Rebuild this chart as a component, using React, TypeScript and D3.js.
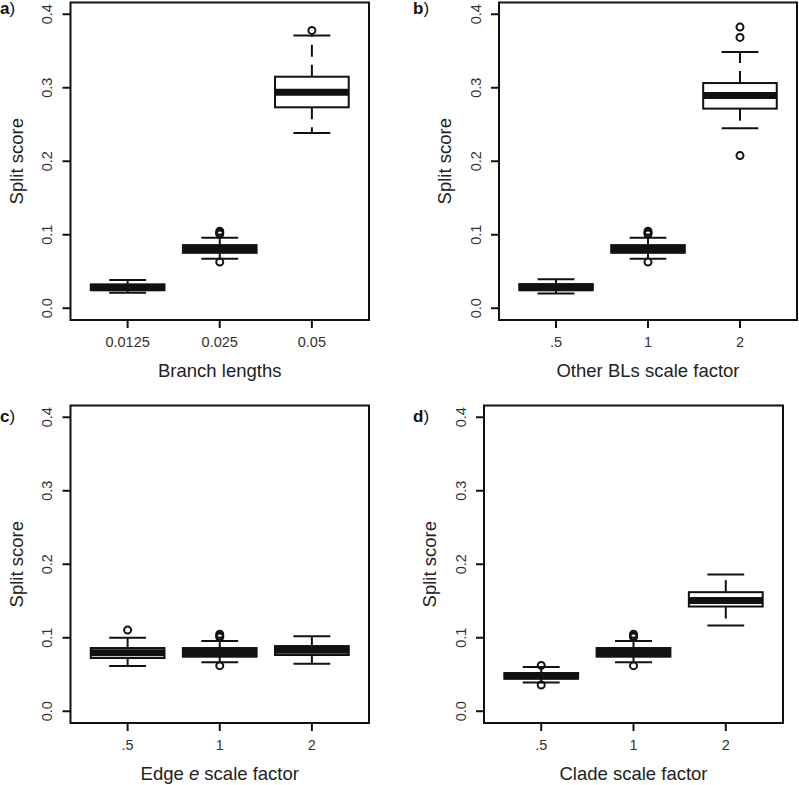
import React from "react";
import * as d3 from "d3";

// ---------- Data ----------
const catsA = ["0.0125", "0.025", "0.05"];
const lowA = [0.021, 0.0673, 0.2385];
const q1A = [0.0247, 0.0754, 0.2734];
const medA = [0.028, 0.08, 0.294];
const q3A = [0.0325, 0.0859, 0.315];
const highA = [0.0383, 0.0958, 0.3712];
const outA = [[], [0.1049, 0.1025, 0.101, 0.0628], [0.378]];

const catsB = [".5", "1", "2"];
const lowB = [0.0202, 0.0673, 0.2448];
const q1B = [0.0247, 0.0754, 0.2716];
const medB = [0.028, 0.08, 0.2893];
const q3B = [0.0329, 0.0859, 0.3064];
const highB = [0.0393, 0.0958, 0.3485];
const outB = [[], [0.1049, 0.1025, 0.101, 0.0628], [0.3825, 0.3685, 0.2077]];

const catsC = [".5", "1", "2"];
const lowC = [0.0615, 0.0665, 0.0647];
const q1C = [0.0724, 0.0742, 0.0765];
const medC = [0.0795, 0.08, 0.083];
const q3C = [0.086, 0.086, 0.0887];
const highC = [0.1, 0.0955, 0.1022];
const outC = [[0.1104], [0.1049, 0.1025, 0.101, 0.062], []];

const catsD = [".5", "1", "2"];
const lowD = [0.039, 0.0665, 0.1167];
const q1D = [0.0443, 0.0742, 0.1425];
const medD = [0.048, 0.08, 0.1507];
const q3D = [0.052, 0.086, 0.162];
const highD = [0.0602, 0.0955, 0.186];
const outD = [[0.0624, 0.0357], [0.1049, 0.1025, 0.101, 0.062], []];

const yTicks = [0, 0.1, 0.2, 0.3, 0.4];
const yTickLabels = ["0.0", "0.1", "0.2", "0.3", "0.4"];
const yTitle = "Split score";

const FONT = "'Liberation Sans', Arial, Helvetica, sans-serif";

type PanelProps = {
  letter: string;
  cats: string[];
  low: number[];
  q1: number[];
  med: number[];
  q3: number[];
  high: number[];
  out: number[][];
  xTitle: React.ReactNode;
  left: number;
  right: number;
  top: number;
  bottom: number;
  letterX: number;
  letterY: number;
};

function Panel(p: PanelProps) {
  const x = d3
    .scaleLinear()
    .domain([0.38, p.cats.length + 0.62])
    .range([p.left, p.right]);
  const y = d3.scaleLinear().domain([-0.016, 0.416]).range([p.bottom, p.top]);
  const halfBox = 0.4;
  const halfStaple = 0.2;
  const cx = (p.left + p.right) / 2;
  const cy = (p.top + p.bottom) / 2;
  return (
    <g>
      <text x={p.letterX} y={p.letterY} fontFamily={FONT} fontSize={17} fill="#111">
        <tspan fontWeight="bold">{p.letter}</tspan>)
      </text>
      {/* y axis */}
      {yTicks.map((t, i) => (
        <g key={"yt" + i}>
          <line x1={p.left - 8} x2={p.left} y1={y(t)} y2={y(t)} stroke="#111" strokeWidth={2} />
          <text
            transform={`translate(${p.left - 18.5},${y(t)}) rotate(-90)`}
            textAnchor="middle"
            fontFamily={FONT}
            fontSize={14.5}
            fill="#333"
          >
            {yTickLabels[i]}
          </text>
        </g>
      ))}
      <text
        transform={`translate(${p.left - 48},${cy}) rotate(-90)`}
        textAnchor="middle"
        fontFamily={FONT}
        fontSize={18.5}
        fill="#222"
      >
        {yTitle}
      </text>
      {/* x axis */}
      {p.cats.map((c, i) => (
        <g key={"xt" + i}>
          <line x1={x(i + 1)} x2={x(i + 1)} y1={p.bottom} y2={p.bottom + 8} stroke="#111" strokeWidth={2} />
          <text x={x(i + 1)} y={p.bottom + 27} textAnchor="middle" fontFamily={FONT} fontSize={14.5} fill="#333">
            {c}
          </text>
        </g>
      ))}
      <text x={cx} y={p.bottom + 56.5} textAnchor="middle" fontFamily={FONT} fontSize={18.5} fill="#222">
        {p.xTitle}
      </text>
      {/* boxes */}
      {p.cats.map((c, i) => {
        const xc = x(i + 1);
        const xl = x(i + 1 - halfBox);
        const xr = x(i + 1 + halfBox);
        const sl = x(i + 1 - halfStaple);
        const sr = x(i + 1 + halfStaple);
        return (
          <g key={"b" + i}>
            <line x1={xc} x2={xc} y1={y(p.q3[i])} y2={y(p.high[i])} stroke="#111" strokeWidth={2} strokeDasharray="12,8" />
            <line x1={xc} x2={xc} y1={y(p.q1[i])} y2={y(p.low[i])} stroke="#111" strokeWidth={2} strokeDasharray="12,8" />
            <line x1={sl} x2={sr} y1={y(p.high[i])} y2={y(p.high[i])} stroke="#111" strokeWidth={2} />
            <line x1={sl} x2={sr} y1={y(p.low[i])} y2={y(p.low[i])} stroke="#111" strokeWidth={2} />
            <rect
              x={xl}
              y={y(p.q3[i])}
              width={xr - xl}
              height={y(p.q1[i]) - y(p.q3[i])}
              fill="#fff"
              stroke="#111"
              strokeWidth={2}
            />
            <line x1={xl} x2={xr} y1={y(p.med[i])} y2={y(p.med[i])} stroke="#111" strokeWidth={7} />
            {p.out[i].map((o, j) => (
              <circle key={j} cx={xc} cy={y(o)} r={3.5} fill="none" stroke="#111" strokeWidth={2} />
            ))}
          </g>
        );
      })}
      {/* frame */}
      <rect
        x={p.left}
        y={p.top}
        width={p.right - p.left}
        height={p.bottom - p.top}
        fill="none"
        stroke="#111"
        strokeWidth={2}
      />
    </g>
  );
}

export default function App() {
  return (
    <svg
      width={799}
      height={785}
      style={{ position: "absolute", left: 0, top: 0, background: "#fff" }}
    >
      <rect x={0} y={0} width={799} height={785} fill="#fff" />
      <Panel
        letter="a"
        cats={catsA}
        low={lowA}
        q1={q1A}
        med={medA}
        q3={q3A}
        high={highA}
        out={outA}
        xTitle="Branch lengths"
        left={70.5}
        right={369}
        top={2.5}
        bottom={320}
        letterX={0}
        letterY={14}
      />
      <Panel
        letter="b"
        cats={catsB}
        low={lowB}
        q1={q1B}
        med={medB}
        q3={q3B}
        high={highB}
        out={outB}
        xTitle="Other BLs scale factor"
        left={499}
        right={797}
        top={2.5}
        bottom={320}
        letterX={413}
        letterY={14}
      />
      <Panel
        letter="c"
        cats={catsC}
        low={lowC}
        q1={q1C}
        med={medC}
        q3={q3C}
        high={highC}
        out={outC}
        xTitle={
          <>
            Edge <tspan fontStyle="italic">e</tspan> scale factor
          </>
        }
        left={70.5}
        right={369}
        top={405.5}
        bottom={723}
        letterX={0}
        letterY={421.5}
      />
      <Panel
        letter="d"
        cats={catsD}
        low={lowD}
        q1={q1D}
        med={medD}
        q3={q3D}
        high={highD}
        out={outD}
        xTitle="Clade scale factor"
        left={484}
        right={783}
        top={405.5}
        bottom={723}
        letterX={413}
        letterY={421.5}
      />
    </svg>
  );
}
